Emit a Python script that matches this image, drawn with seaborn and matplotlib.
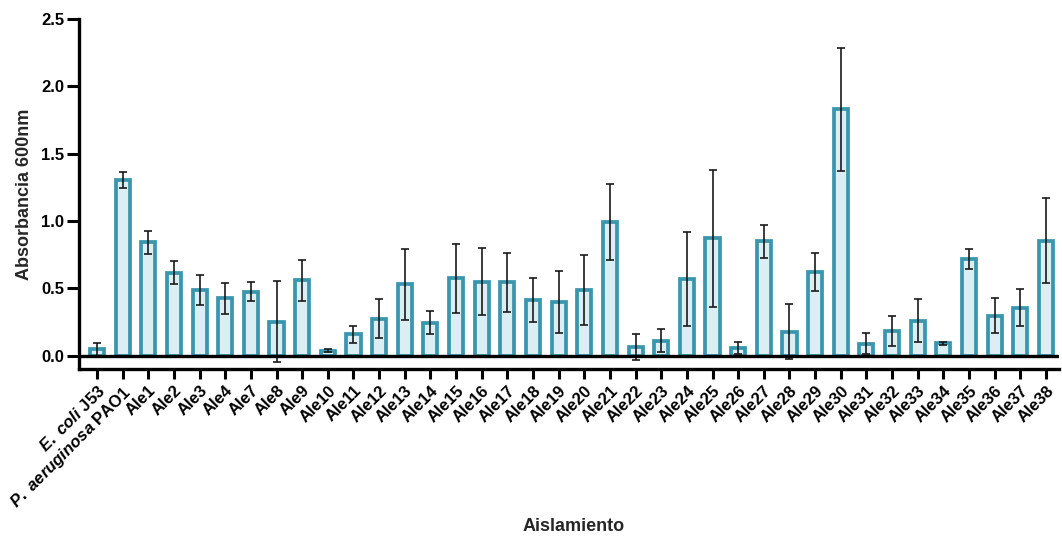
import matplotlib
matplotlib.use("Agg")
import matplotlib.pyplot as plt
import seaborn as sns
import pandas as pd
import numpy as np

categories = [r"$\mathit{E.\ coli}$ J53", r"$\mathit{P.\ aeruginosa}$ PAO1",
              "Ale1", "Ale2", "Ale3", "Ale4", "Ale7", "Ale8", "Ale9", "Ale10",
              "Ale11", "Ale12", "Ale13", "Ale14", "Ale15", "Ale16", "Ale17", "Ale18",
              "Ale19", "Ale20", "Ale21", "Ale22", "Ale23", "Ale24", "Ale25", "Ale26",
              "Ale27", "Ale28", "Ale29", "Ale30", "Ale31", "Ale32", "Ale33", "Ale34",
              "Ale35", "Ale36", "Ale37", "Ale38"]
means = [0.045, 1.305, 0.840, 0.615, 0.487, 0.425, 0.475, 0.252, 0.558, 0.035,
         0.157, 0.272, 0.528, 0.244, 0.573, 0.548, 0.543, 0.412, 0.397, 0.484,
         0.990, 0.064, 0.110, 0.568, 0.870, 0.058, 0.848, 0.177, 0.620, 1.828,
         0.088, 0.184, 0.258, 0.090, 0.714, 0.295, 0.355, 0.853]
errors = [0.045, 0.058, 0.085, 0.087, 0.113, 0.113, 0.073, 0.303, 0.153, 0.010,
          0.066, 0.145, 0.263, 0.083, 0.255, 0.248, 0.218, 0.163, 0.232, 0.260,
          0.284, 0.097, 0.086, 0.352, 0.509, 0.043, 0.122, 0.205, 0.144, 0.456,
          0.080, 0.111, 0.161, 0.014, 0.075, 0.129, 0.136, 0.315]

sns.set_theme(style="ticks")
plt.rcParams['font.family'] = ['Liberation Sans', 'DejaVu Sans']
plt.rcParams['font.weight'] = 'bold'
plt.rcParams['mathtext.fontset'] = 'custom'
plt.rcParams['mathtext.it'] = 'Liberation Sans:italic:bold'
plt.rcParams['mathtext.rm'] = 'Liberation Sans:bold'

df = pd.DataFrame({"cat": categories, "val": means})

fig = plt.figure(figsize=(10.62, 5.39), dpi=100)
ax = fig.add_axes([0.0744, 0.3154, 0.9226, 0.6496])

edge = "#3a96ad"
fill = "#dbeef4"
sns.barplot(data=df, x="cat", y="val", ax=ax, color=fill, saturation=1,
            edgecolor=edge, linewidth=2.7, width=0.55, errorbar=None)

xs = np.arange(len(categories))
ax.errorbar(xs, means, yerr=errors, fmt="none", ecolor="#1a1a1a",
            elinewidth=1.2, capsize=3.2, capthick=1.2, zorder=5)

ax.axhline(0, color="black", lw=2.4, zorder=6)

ax.set_xlim(-0.7, len(categories) - 0.5)
ax.set_ylim(-0.1, 2.5)
ax.set_yticks([0.0, 0.5, 1.0, 1.5, 2.0, 2.5])
ax.set_yticklabels(["0.0", "0.5", "1.0", "1.5", "2.0", "2.5"])

for s in ["top", "right"]:
    ax.spines[s].set_visible(False)
for s in ["left", "bottom"]:
    ax.spines[s].set_linewidth(2.4)
    ax.spines[s].set_color("black")

ax.tick_params(axis="y", length=8.5, width=2.2, colors="black", labelsize=12, pad=2)
ax.tick_params(axis="x", length=7, width=2.2, colors="black", labelsize=12, pad=3)
ax.set_xticks(xs)
ax.set_xticklabels(categories, rotation=45, ha="right", rotation_mode="anchor",
                   fontweight="bold")
for lab in ax.get_yticklabels():
    lab.set_fontweight("bold")

ax.set_xlabel("Aislamiento", fontsize=13, fontweight="bold", va="center")
ax.xaxis.set_label_coords(0.505, -0.451)
ax.set_ylabel("Absorbancia 600nm", fontsize=13, fontweight="bold", labelpad=6)

fig.savefig("out.png", dpi=100)
